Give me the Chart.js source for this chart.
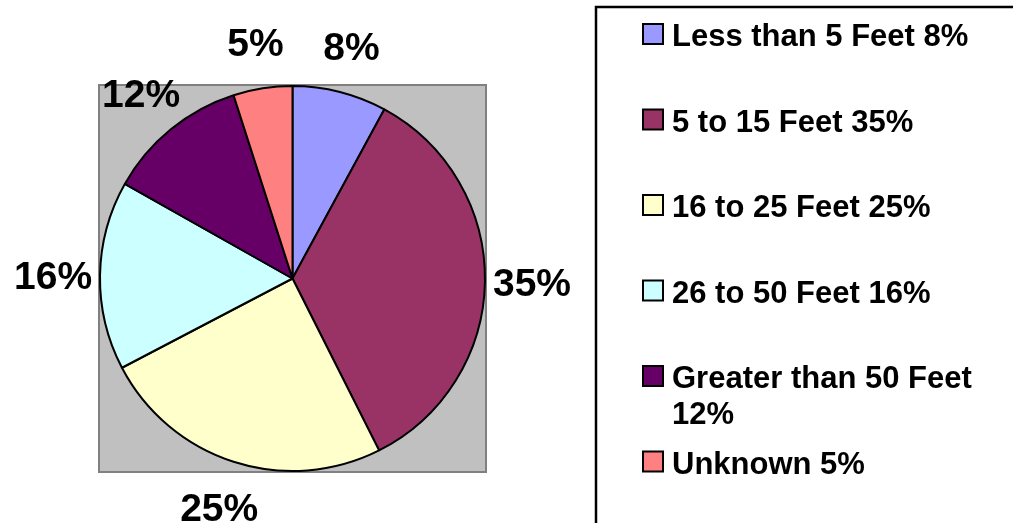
<!DOCTYPE html>
<html lang="en">
  <head>
    <meta charset="UTF-8" />
    <title>Depth</title>
    <script src="https://cdn.jsdelivr.net/npm/chart.js"></script>
    <style>
      body { margin: 0; background: #fff; }
      #wrap { width: 1013px; height: 523px; position: relative; }
    </style>
  </head>
  <body>
    <div id="wrap"><canvas id="chart"></canvas></div>
    <script>
      const categories = [
        "Less than 5 Feet",
        "5 to 15 Feet",
        "16 to 25 Feet",
        "26 to 50 Feet",
        "Greater than 50 Feet",
        "Unknown",
      ];
      const percents = [8, 35, 25, 16, 12, 5];
      const colors = ["#9999FF", "#993366", "#FFFFCC", "#CCFFFF", "#660066", "#FF8080"];

      const FONT = "Arial, 'Liberation Sans', sans-serif";

      // grey plot area behind the pie
      const plotBg = {
        id: "plotBg",
        beforeDraw(chart) {
          const { ctx, chartArea: a } = chart;
          ctx.save();
          ctx.fillStyle = "#C0C0C0";
          ctx.fillRect(a.left, a.top, a.right - a.left, a.bottom - a.top);
          ctx.strokeStyle = "#808080";
          ctx.lineWidth = 2;
          ctx.strokeRect(a.left, a.top, a.right - a.left, a.bottom - a.top);
          ctx.restore();
        },
      };

      // percent labels outside each slice
      const outLabels = {
        id: "outLabels",
        afterDatasetsDraw(chart) {
          const ctx = chart.ctx;
          const arcs = chart.getDatasetMeta(0).data;
          const size = 39;
          ctx.save();
          ctx.font = "bold " + size + "px " + FONT;
          ctx.fillStyle = "#000";
          ctx.textAlign = "center";
          ctx.textBaseline = "alphabetic";
          arcs.forEach((arc, i) => {
            const mid = (arc.startAngle + arc.endAngle) / 2;
            const r = arc.outerRadius + 47;
            const x = arc.x + Math.cos(mid) * r;
            const y = arc.y + Math.sin(mid) * r + size * 0.36;
            ctx.fillText(percents[i] + "%", x, y);
          });
          ctx.restore();
        },
      };

      // boxed legend on the right, wraps long entries
      const boxLegend = {
        id: "boxLegend",
        afterDraw(chart) {
          const ctx = chart.ctx;
          ctx.save();
          ctx.strokeStyle = "#000";
          ctx.lineWidth = 2.5;
          ctx.strokeRect(596, 7, 600, 600);
          ctx.font = "bold 31px " + FONT;
          ctx.textBaseline = "alphabetic";
          const maxW = 330;
          categories.forEach((c, i) => {
            const base = 46 + i * 85.5;
            ctx.fillStyle = colors[i];
            ctx.fillRect(643, base - 22, 20, 20);
            ctx.strokeStyle = "#000";
            ctx.lineWidth = 2;
            ctx.strokeRect(643, base - 22, 20, 20);
            ctx.fillStyle = "#000";
            const words = (c + " " + percents[i] + "%").split(" ");
            let line = "";
            let y = base;
            words.forEach((w) => {
              const t = line ? line + " " + w : w;
              if (ctx.measureText(t).width > maxW && line) {
                ctx.fillText(line, 672, y);
                line = w;
                y += 36;
              } else line = t;
            });
            ctx.fillText(line, 672, y);
          });
          ctx.restore();
        },
      };

      new Chart(document.getElementById("chart"), {
        type: "pie",
        data: {
          labels: categories,
          datasets: [
            {
              data: percents,
              backgroundColor: colors,
              borderColor: "#000",
              borderWidth: 2,
            },
          ],
        },
        options: {
          responsive: true,
          maintainAspectRatio: false,
          animation: false,
          layout: { padding: { left: 99, top: 85, right: 527, bottom: 51 } },
          plugins: { legend: { display: false }, tooltip: { enabled: false } },
        },
        plugins: [plotBg, outLabels, boxLegend],
      });
    </script>
  </body>
</html>
